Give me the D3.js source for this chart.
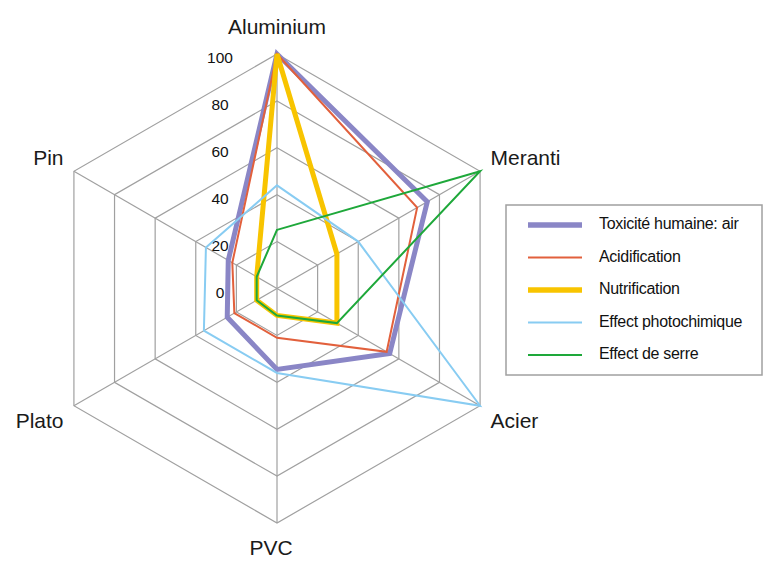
<!DOCTYPE html>
<html>
<head>
<meta charset="utf-8">
<script src="https://cdn.jsdelivr.net/npm/d3@7/dist/d3.min.js"></script>
<style>
  html, body { margin: 0; padding: 0; background: #fff; }
  svg { display: block; font-family: "Liberation Sans", Arial, sans-serif; }
</style>
</head>
<body>
<svg id="chart" width="765" height="561"></svg>
<script>
// ---- data ----
const axes = ["Aluminium", "Meranti", "Acier", "PVC", "Plato", "Pin"];
const tickValues = [0, 20, 40, 60, 80, 100];
const seriesNames = ["Toxicité humaine: air", "Acidification", "Nutrification", "Effect photochimique", "Effect de serre"];
const toxicite = [100, 74, 55.5, 34.5, 24.5, 24];
const acidification = [100, 69, 54, 21, 21, 22];
const nutrification = [100, 29.5, 29.5, 11.5, 10, 10];
const photochimique = [44, 40, 100, 36, 36, 35];
const serre = [25, 100, 29.5, 11.5, 10, 10];

// ---- styles ----
const seriesValues = [toxicite, acidification, nutrification, photochimique, serre];
const colors = ["#8a86c6", "#e2603c", "#f8c400", "#88ccf2", "#1ea83a"];
const widths = [5, 2, 5, 2, 2];

const svg = d3.select("#chart");
const cx = 277, cy = 288.5, R = 234.5;
const r = d3.scaleLinear().domain([0, 100]).range([0, R]);
const angle = d3.scalePoint().domain(axes).range([0, 2 * Math.PI * (axes.length - 1) / axes.length]);

function pt(axis, v) {
  const a = angle(axis);
  return [cx + Math.sin(a) * r(v), cy - Math.cos(a) * r(v)];
}

const g = svg.append("g");

// grid rings
tickValues.filter(v => v > 0).forEach(v => {
  g.append("path")
    .attr("d", d3.line()(axes.map(ax => pt(ax, v))) + "Z")
    .attr("fill", "none")
    .attr("stroke", "#a0a0a0")
    .attr("stroke-width", 1.2);
});
// spokes
axes.forEach(ax => {
  const p = pt(ax, 100);
  g.append("line")
    .attr("x1", cx).attr("y1", cy).attr("x2", p[0]).attr("y2", p[1])
    .attr("stroke", "#a0a0a0").attr("stroke-width", 1.2);
});

// tick labels
tickValues.forEach(v => {
  g.append("text")
    .attr("x", cx - 57)
    .attr("y", cy - r(v) + 5)
    .attr("text-anchor", "middle")
    .attr("dominant-baseline", "middle")
    .attr("font-size", 15.5)
    .attr("fill", "#111")
    .text(v);
});

// axis labels
axes.forEach(ax => {
  const a = angle(ax);
  const dx = Math.sin(a), dy = -Math.cos(a);
  const p = pt(ax, 100);
  const anchor = dx > 0.1 ? "start" : (dx < -0.1 ? "end" : "middle");
  g.append("text")
    .attr("x", p[0] + dx * 12 + (Math.abs(dx) < 0.1 && dy > 0 ? -6 : 0))
    .attr("y", p[1] + 8 + dy * (dy > 0.9 ? 24 : 28))
    .attr("text-anchor", anchor)
    .attr("font-size", 21)
    .attr("fill", "#1a1a1a")
    .text(ax);
});

// series
const lineGen = d3.line().curve(d3.curveLinearClosed);
seriesValues.forEach((vals, i) => {
  g.append("path")
    .attr("d", lineGen(axes.map((ax, j) => pt(ax, vals[j]))))
    .attr("fill", "none")
    .attr("stroke", colors[i])
    .attr("stroke-width", widths[i])
    .attr("stroke-linejoin", "miter");
});

// legend
const lg = svg.append("g");
lg.append("rect")
  .attr("x", 506).attr("y", 205).attr("width", 256).attr("height", 170)
  .attr("fill", "#fff").attr("stroke", "#a0a0a0").attr("stroke-width", 1.5);
const rowY = d3.scalePoint().domain(seriesNames).range([225, 355]);
seriesNames.forEach((name, i) => {
  const y = rowY(name);
  lg.append("line")
    .attr("x1", 528).attr("x2", 582).attr("y1", y).attr("y2", y)
    .attr("stroke", colors[i]).attr("stroke-width", widths[i] === 5 ? 5.5 : 2);
  lg.append("text")
    .attr("x", 599).attr("y", y)
    .attr("dominant-baseline", "middle")
    .attr("font-size", 16)
    .attr("letter-spacing", -0.3)
    .attr("fill", "#111")
    .text(name);
});
</script>
</body>
</html>
